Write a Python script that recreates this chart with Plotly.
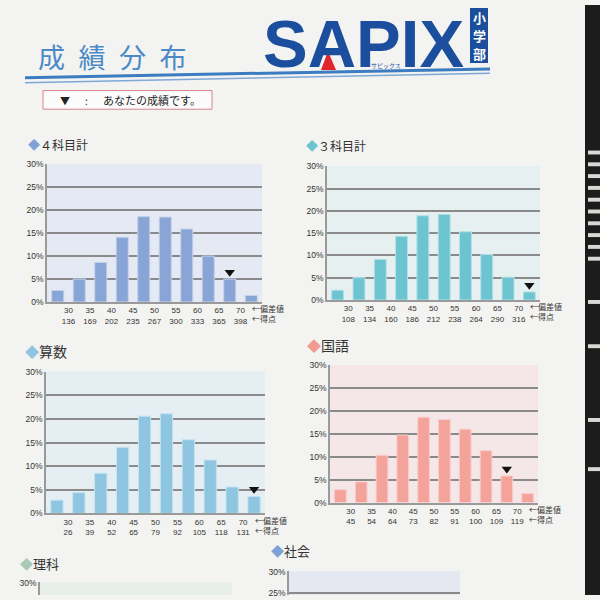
import plotly.graph_objects as go

# ---------------- data ----------------
bins = list(range(10))                      # 10 bins: <30, 30-35, ..., >=70
boundary_pos = [i + 0.5 for i in range(9)]  # boundaries between bins
deviation = ["30", "35", "40", "45", "50", "55", "60", "65", "70"]

total4_scores = ["136", "169", "202", "235", "267", "300", "333", "365", "398"]
total4_pct = [2.5, 5.0, 8.6, 14.1, 18.6, 18.5, 15.9, 10.0, 5.0, 1.4]
total4_you = 8

total3_scores = ["108", "134", "160", "186", "212", "238", "264", "290", "316"]
total3_pct = [2.2, 5.0, 9.1, 14.3, 18.9, 19.2, 15.3, 10.2, 5.1, 1.8]
total3_you = 9

math_scores = ["26", "39", "52", "65", "79", "92", "105", "118", "131"]
math_pct = [2.8, 4.4, 8.5, 14.0, 20.6, 21.1, 15.6, 11.3, 5.6, 3.6]
math_you = 9

jp_scores = ["45", "54", "64", "73", "82", "91", "100", "109", "119"]
jp_pct = [2.8, 4.5, 10.3, 14.7, 18.6, 18.1, 16.0, 11.3, 5.8, 2.0]
jp_you = 8

y_ticks = [0, 5, 10, 15, 20, 25, 30]
y_tick_labels = ["0%", "5%", "10%", "15%", "20%", "25%", "30%"]

W, H = 600, 600
JP = "Noto Sans CJK JP"
NUM = "Liberation Sans"


def px(x):
    return x / W


def py(y):
    return 1 - y / H


charts = [
    dict(name="４科目計", pct=total4_pct, scores=total4_scores, you=total4_you,
         x=(47, 262), y=(162, 302), bar="#88a5d5", line="#c3d2ec", bg="#e5e9f3",
         dia="#7ea2d6", title=(26, 142), tsize=12),
    dict(name="３科目計", pct=total3_pct, scores=total3_scores, you=total3_you,
         x=(327, 540), y=(164, 300), bar="#6cc4d1", line="#b4e1e7", bg="#e6f0f0",
         dia="#6cc4d1", title=(304, 143), tsize=12),
    dict(name="算数", pct=math_pct, scores=math_scores, you=math_you,
         x=(46, 265), y=(373, 517), bar="#8ec5e0", line="#c5e2f0", bg="#e4eef3",
         dia="#8ec5e0", title=(23, 352), tsize=14),
    dict(name="国語", pct=jp_pct, scores=jp_scores, you=jp_you,
         x=(330, 538), y=(366, 506), bar="#f4a39b", line="#f9cdc8", bg="#f5e6e8",
         dia="#f19a90", title=(305, 346), tsize=14),
]

fig = go.Figure()
layout = dict(
    width=W, height=H,
    margin=dict(l=0, r=0, t=0, b=0),
    paper_bgcolor="#f3f3f1",
    showlegend=False,
    bargap=0.44,
    font=dict(family=NUM, color="#333333"),
)
annotations = []
shapes = []

for i, c in enumerate(charts):
    n = "" if i == 0 else str(i + 1)
    xa, ya = "x" + n, "y" + n
    fig.add_trace(go.Bar(
        x=bins, y=c["pct"], xaxis=xa, yaxis=ya,
        marker=dict(color=c["bar"], line=dict(color=c["line"], width=1)),
        hoverinfo="skip",
    ))
    fig.add_trace(go.Scatter(
        x=[bins[c["you"]]], y=[c["pct"][c["you"]] + 1.5], xaxis=xa, yaxis=ya,
        mode="markers",
        marker=dict(symbol="triangle-down", size=9, color="#111111"),
        hoverinfo="skip",
    ))
    layout["xaxis" + n] = dict(
        domain=[px(c["x"][0]), px(c["x"][1])], anchor=ya,
        range=[-0.5, 9.5], tickmode="array", tickvals=boundary_pos,
        ticktext=[f"{d}<br>{s}" for d, s in zip(deviation, c["scores"])],
        tickfont=dict(size=8, family=NUM, color="#333"),
        showgrid=False, showline=True, linecolor="#9a9a9a", linewidth=1.5,
        ticks="", zeroline=False, fixedrange=True,
    )
    layout["yaxis" + n] = dict(
        domain=[py(c["y"][1]), py(c["y"][0])], anchor=xa,
        range=[0, 30], tickmode="array", tickvals=y_ticks, ticktext=y_tick_labels,
        tickfont=dict(size=8.5, family=NUM, color="#333"),
        showgrid=True, gridcolor="#8a8a8a", gridwidth=1.6,
        showline=True, linecolor="#9a9a9a", linewidth=1.5,
        ticks="", zeroline=False, fixedrange=True,
    )
    shapes.append(dict(type="rect", xref=xa + " domain", yref=ya + " domain",
                       x0=0, x1=1, y0=0, y1=1, fillcolor=c["bg"],
                       line=dict(width=0), layer="below"))
    # section title
    tx, ty = c["title"]
    annotations.append(dict(xref="paper", yref="paper", x=px(tx), y=py(ty),
                            text=f"<span style='color:{c['dia']}'>◆</span>{c['name']}",
                            showarrow=False, xanchor="left", yanchor="middle",
                            font=dict(size=c["tsize"], family=JP, color="#333")))
    # arrows for the two label rows
    yb = c["y"][1]
    annotations.append(dict(xref=xa, yref="paper", x=8.95, y=py(yb + 7),
                            text="←偏差値", showarrow=False, xanchor="left",
                            yanchor="middle", font=dict(size=8, family=JP, color="#333")))
    annotations.append(dict(xref=xa, yref="paper", x=8.95, y=py(yb + 17),
                            text="←得点", showarrow=False, xanchor="left",
                            yanchor="middle", font=dict(size=8, family=JP, color="#333")))

# partially visible charts at the bottom (理科, 社会)
bottom = [
    dict(name="理科", x=(40, 232), top=587, rng=[27.4, 30.1], bg="#e8efe9", dia="#a9c9b2",
         title=(18, 568)),
    dict(name="社会", x=(289, 460), top=576, rng=[24.6, 30.1], bg="#e5e8f1", dia="#7ea2d6",
         title=(269, 555)),
]
for j, b in enumerate(bottom):
    n = str(5 + j)
    xa, ya = "x" + n, "y" + n
    fig.add_trace(go.Bar(x=[], y=[], xaxis=xa, yaxis=ya, hoverinfo="skip"))
    layout["xaxis" + n] = dict(domain=[px(b["x"][0]), px(b["x"][1])], anchor=ya,
                               range=[-0.5, 9.5], showticklabels=False, showgrid=False,
                               showline=False, zeroline=False, ticks="", fixedrange=True)
    layout["yaxis" + n] = dict(domain=[0, py(b["top"])], anchor=xa, range=b["rng"],
                               tickmode="array", tickvals=y_ticks, ticktext=y_tick_labels,
                               tickfont=dict(size=8.5, family=NUM, color="#333"),
                               showgrid=True, gridcolor="#8a8a8a", gridwidth=1.6,
                               showline=True, linecolor="#9a9a9a", linewidth=1.5,
                               ticks="", zeroline=False, fixedrange=True)
    shapes.append(dict(type="rect", xref=xa + " domain", yref=ya + " domain",
                       x0=0, x1=1, y0=0, y1=1, fillcolor=b["bg"],
                       line=dict(width=0), layer="below"))
    tx, ty = b["title"]
    annotations.append(dict(xref="paper", yref="paper", x=px(tx), y=py(ty),
                            text=f"<span style='color:{b['dia']}'>◆</span>{b['name']}",
                            showarrow=False, xanchor="left", yanchor="middle",
                            font=dict(size=13, family=JP, color="#333")))

# ---------------- header ----------------
annotations.append(dict(xref="paper", yref="paper", x=px(36), y=py(52),
                        text="成\u2002績\u2002分\u2002布", showarrow=False,
                        xanchor="left", yanchor="middle",
                        font=dict(size=27, family=JP, color="#4b8ac6")))
# blue double rule
shapes.append(dict(type="line", xref="paper", yref="paper",
                   x0=px(25), y0=py(74), x1=px(490), y1=py(65),
                   line=dict(color="#3c7cc0", width=3)))
shapes.append(dict(type="line", xref="paper", yref="paper",
                   x0=px(25), y0=py(79), x1=px(490), y1=py(69.5),
                   line=dict(color="#7fa8d6", width=1.5)))
# SAPIX logo
annotations.append(dict(xref="paper", yref="paper", x=px(363), y=py(39),
                        text="<b>SAPIX</b>", showarrow=False, xanchor="center",
                        yanchor="middle", height=50,
                        font=dict(size=67, family=NUM, color="#1b4e9c")))
shapes.append(dict(type="path", xref="paper", yref="paper",
                   path=f"M {px(328)} {py(47)} L {px(321)} {py(66)} L {px(336)} {py(66)} Z",
                   fillcolor="#e0262b", line=dict(width=0)))
annotations.append(dict(xref="paper", yref="paper", x=px(386), y=py(62),
                        text="サピックス", showarrow=False, xanchor="center",
                        yanchor="middle", font=dict(size=6, family=JP, color="#1b4e9c")))
shapes.append(dict(type="rect", xref="paper", yref="paper",
                   x0=px(470), x1=px(488), y0=py(59), y1=py(3),
                   fillcolor="#1b4e9c", line=dict(width=0)))
for ch, cy in zip(["小", "学", "部"], [13, 31, 49]):
    annotations.append(dict(xref="paper", yref="paper", x=px(479), y=py(cy),
                            text=f"<b>{ch}</b>", showarrow=False,
                            xanchor="center", yanchor="middle",
                            font=dict(size=13, family=JP, color="white")))

# legend box
shapes.append(dict(type="rect", xref="paper", yref="paper",
                   x0=px(43), x1=px(212), y0=py(106), y1=py(87),
                   fillcolor="#fbfbfb", line=dict(color="#d7848f", width=1)))
annotations.append(dict(xref="paper", yref="paper", x=px(58), y=py(97),
                        text="▼", showarrow=False, xanchor="left", yanchor="middle",
                        font=dict(size=10, family=JP, color="#222")))
annotations.append(dict(xref="paper", yref="paper", x=px(83), y=py(97),
                        text=":", showarrow=False, xanchor="left", yanchor="middle",
                        font=dict(size=10, family=JP, color="#222")))
annotations.append(dict(xref="paper", yref="paper", x=px(101), y=py(97),
                        text="あなたの成績です。", showarrow=False, xanchor="left",
                        yanchor="middle", font=dict(size=11, family=JP, color="#222")))

# dark background at the right edge of the photo
shapes.append(dict(type="rect", xref="paper", yref="paper",
                   x0=px(585), x1=1, y0=0, y1=1,
                   fillcolor="#1c1c1c", line=dict(width=0)))
for s in [148, 160, 172, 184, 196, 208, 220, 232, 244, 256, 300, 345, 420, 470]:
    shapes.append(dict(type="rect", xref="paper", yref="paper",
                       x0=px(588), x1=1, y0=py(s + 4), y1=py(s),
                       fillcolor="#d9d8d2", line=dict(width=0)))

layout["annotations"] = annotations
layout["shapes"] = shapes
fig.update_layout(**layout)
fig.write_html(
    "out.html",
    config={"displayModeBar": False},
    post_script="document.documentElement.style.overflow='hidden';"
                "document.body.style.margin='0';document.body.style.overflow='hidden';"
                "document.body.style.background='#f3f3f1';",
)
